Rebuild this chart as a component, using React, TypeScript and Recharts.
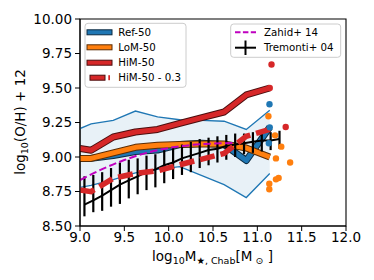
import React from "react";
import {
  ComposedChart,
  Line,
  Area,
  Scatter,
  XAxis,
  YAxis,
  ErrorBar,
  ReferenceArea,
} from "recharts";

// ---------- data ----------
const binMass = [9.0, 9.125, 9.375, 9.625, 9.875, 10.125, 10.375, 10.625, 10.875, 11.14];
const refMedian = [8.99, 8.99, 9.01, 9.04, 9.05, 9.09, 9.1, 9.09, 8.975, 9.215];
const refUpper = [9.206, 9.24, 9.266, 9.333, 9.29, 9.27, 9.265, 9.259, 9.2, 9.338];
const refLower = [8.78, 8.795, 8.836, 8.885, 8.91, 8.93, 8.865, 8.8, 8.706, 8.88];
const lomMedian = [8.99, 8.99, 9.03, 9.07, 9.085, 9.09, 9.095, 9.095, 9.065, 9.0];
const himMedian = [9.061, 9.049, 9.145, 9.181, 9.2, 9.244, 9.285, 9.326, 9.45, 9.5];
const himShifted = [8.761, 8.749, 8.845, 8.881, 8.9, 8.944, 8.985, 9.026, 9.15, 9.2];

const zahidMass = [9.0, 9.25, 9.5, 9.75, 10.0, 10.25, 10.5, 10.75];
const zahidZ = [8.833, 8.912, 8.978, 9.03, 9.065, 9.087, 9.097, 9.101];

const tremMass = [9.05, 9.15, 9.25, 9.35, 9.45, 9.55, 9.65, 9.75, 9.85, 9.95, 10.05, 10.15, 10.25, 10.35, 10.45, 10.55, 10.65, 10.75, 10.85, 10.95, 11.05, 11.15, 11.25];
const tremMed = [8.655, 8.685, 8.72, 8.76, 8.8, 8.83, 8.86, 8.89, 8.91, 8.94, 8.96, 8.99, 9.01, 9.03, 9.05, 9.06, 9.08, 9.09, 9.1, 9.11, 9.12, 9.12, 9.13];
const tremP16 = [8.57, 8.6, 8.61, 8.64, 8.66, 8.7, 8.73, 8.76, 8.78, 8.81, 8.84, 8.87, 8.89, 8.92, 8.94, 8.96, 8.98, 9.0, 9.02, 9.03, 9.04, 9.05, 9.06];
const tremP84 = [8.86, 8.87, 8.89, 8.92, 8.96, 8.98, 8.99, 9.01, 9.02, 9.05, 9.07, 9.09, 9.11, 9.13, 9.14, 9.15, 9.16, 9.17, 9.17, 9.18, 9.18, 9.18, 9.19];

const refPtsMass = [11.137, 11.13, 11.14];
const refPtsZ = [9.382, 9.1, 9.215];
const lomPtsMass = [11.125, 11.2, 11.27, 11.21, 11.37, 11.24, 11.21, 11.135, 11.135];
const lomPtsZ = [9.295, 9.157, 9.075, 8.99, 8.96, 8.848, 8.838, 8.807, 8.766];
const himPtsMass = [11.32, 11.16, 11.14];
const himPtsZ = [9.217, 9.67, 9.5];

const xTicks = [9.0, 9.5, 10.0, 10.5, 11.0, 11.5, 12.0];
const yTicks = [8.5, 8.75, 9.0, 9.25, 9.5, 9.75, 10.0];

// ---------- tables ----------
const bandData = binMass.map((m, i) => ({ m, range: [refLower[i], refUpper[i]], lo: refLower[i], hi: refUpper[i] }));
const refData = binMass.map((m, i) => ({ m, z: refMedian[i] }));
const lomData = binMass.map((m, i) => ({ m, z: lomMedian[i] }));
const himData = binMass.map((m, i) => ({ m, z: himMedian[i] }));
const himShData = binMass.map((m, i) => ({ m, z: himShifted[i] }));
const zahidData = zahidMass.map((m, i) => ({ m, z: zahidZ[i] }));
const tremData = tremMass.map((m, i) => ({ m, z: tremMed[i], err: [tremMed[i] - tremP16[i], tremP84[i] - tremMed[i]] }));
const refPts = refPtsMass.map((m, i) => ({ m, z: refPtsZ[i] }));
const lomPts = lomPtsMass.map((m, i) => ({ m, z: lomPtsZ[i] }));
const himPts = himPtsMass.map((m, i) => ({ m, z: himPtsZ[i] }));

const BLUE = "#1f77b4";
const ORANGE = "#ff7f0e";
const RED = "#d62728";
const MAGENTA = "#bf00bf";
const FONT = "DejaVu Sans";

const dot = (color: string, r: number) => (props: any) =>
  <circle cx={props.cx} cy={props.cy} r={r} fill={color} />;

export default function App() {
  const tickStyle = { fontSize: 13.5, fill: "#000", fontFamily: FONT };
  return (
    <div style={{ position: "absolute", left: 0, top: 0, width: 374, height: 280, background: "#fff" }}>
      <ComposedChart width={374} height={280} margin={{ top: 19, right: 28, bottom: 0, left: 0 }}>
        <XAxis
          dataKey="m"
          type="number"
          domain={[9, 12]}
          ticks={xTicks}
          allowDataOverflow
          tickFormatter={(v: number) => v.toFixed(1)}
          tick={tickStyle}
          tickSize={5}
          tickMargin={1.5}
          height={54}
          stroke="#000"
          tickLine={{ stroke: "#000" }}
        />
        <YAxis
          dataKey="z"
          type="number"
          domain={[8.5, 10]}
          ticks={yTicks}
          allowDataOverflow
          tickFormatter={(v: number) => v.toFixed(2)}
          tick={tickStyle}
          tickSize={5}
          tickMargin={3}
          width={80}
          stroke="#000"
          tickLine={{ stroke: "#000" }}
        />
        <Area data={bandData} dataKey="range" type="linear" fill={BLUE} fillOpacity={0.1} stroke="none" isAnimationActive={false} legendType="none" />
        <Line data={bandData} dataKey="hi" type="linear" stroke={BLUE} strokeWidth={1.3} dot={false} activeDot={false} isAnimationActive={false} legendType="none" />
        <Line data={bandData} dataKey="lo" type="linear" stroke={BLUE} strokeWidth={1.3} dot={false} activeDot={false} isAnimationActive={false} legendType="none" />

        <Line data={refData} dataKey="z" type="linear" stroke="#0b2a40" strokeWidth={7} strokeLinejoin="round" dot={false} activeDot={false} isAnimationActive={false} legendType="none" />
        <Line data={refData} dataKey="z" type="linear" stroke={BLUE} strokeWidth={5} strokeLinejoin="round" dot={false} activeDot={false} isAnimationActive={false} legendType="none" />
        <Line data={lomData} dataKey="z" type="linear" stroke="#5a2d05" strokeWidth={7} strokeLinejoin="round" dot={false} activeDot={false} isAnimationActive={false} legendType="none" />
        <Line data={lomData} dataKey="z" type="linear" stroke={ORANGE} strokeWidth={5} strokeLinejoin="round" dot={false} activeDot={false} isAnimationActive={false} legendType="none" />

        <Line data={tremData} dataKey="z" type="linear" stroke="#000" strokeWidth={2} dot={false} activeDot={false} isAnimationActive={false} legendType="none">
          <ErrorBar dataKey="err" width={0} stroke="#000" strokeWidth={2.2} direction="y" />
        </Line>

        <Line data={himData} dataKey="z" type="linear" stroke="#4a0e0e" strokeWidth={7} strokeLinejoin="round" dot={false} activeDot={false} isAnimationActive={false} legendType="none" />
        <Line data={himData} dataKey="z" type="linear" stroke={RED} strokeWidth={5} strokeLinejoin="round" dot={false} activeDot={false} isAnimationActive={false} legendType="none" />
        <Line data={himShData} dataKey="z" type="linear" stroke={RED} strokeWidth={5.5} strokeDasharray="15 6" dot={false} activeDot={false} isAnimationActive={false} legendType="none" />

        <Line data={zahidData} dataKey="z" type="monotone" stroke={MAGENTA} strokeWidth={2} strokeDasharray="7.5 3.3" dot={false} activeDot={false} isAnimationActive={false} legendType="none" />

        <Scatter data={refPts} dataKey="z" fill={BLUE} shape={dot(BLUE, 3.2)} isAnimationActive={false} legendType="none" />
        <Scatter data={lomPts} dataKey="z" fill={ORANGE} shape={dot(ORANGE, 3.2)} isAnimationActive={false} legendType="none" />
        <Scatter data={himPts} dataKey="z" fill={RED} shape={dot(RED, 3.2)} isAnimationActive={false} legendType="none" />

        <ReferenceArea x1={9} x2={12} y1={8.5} y2={10} fill="none" stroke="#000" strokeWidth={1.1} />
      </ComposedChart>

      <svg width={374} height={280} style={{ position: "absolute", left: 0, top: 0, pointerEvents: "none" }} fontFamily={FONT}>
        {/* y label */}
        <text transform="translate(25,122) rotate(-90)" textAnchor="middle" fontSize={13.5} fill="#000">
          log<tspan fontSize={9.5} dy={3}>10</tspan><tspan dy={-3}>(O/H) + 12</tspan>
        </text>
        {/* x label */}
        <text x={212.5} y={260.5} textAnchor="middle" fontSize={13.5} fill="#000">
          log<tspan fontSize={9.5} dy={3}>10</tspan><tspan dy={-3}>M</tspan><tspan fontSize={9.5} dy={3}>★, Chab</tspan><tspan dy={-3}>[M</tspan><tspan fontSize={9.5} dy={3}> ⊙</tspan><tspan dy={-3}> ]</tspan>
        </text>

        {/* legend 1 */}
        <rect x={85} y={23.3} width={101} height={64} rx={3} fill="#fff" fillOpacity={0.8} stroke="#ccc" strokeWidth={1} />
        <rect x={87} y={29.8} width={25} height={5} fill={BLUE} stroke="#0b2a40" strokeWidth={1} />
        <text x={118.3} y={36} fontSize={10.25} fill="#000">Ref-50</text>
        <rect x={87} y={44.8} width={25} height={5} fill={ORANGE} stroke="#5a2d05" strokeWidth={1} />
        <text x={118.3} y={51} fontSize={10.25} fill="#000">LoM-50</text>
        <rect x={87} y={60.2} width={25} height={5} fill={RED} stroke="#4a0e0e" strokeWidth={1} />
        <text x={118.3} y={66.4} fontSize={10.25} fill="#000">HiM-50</text>
        <rect x={90} y={75.2} width={15} height={5} fill={RED} stroke="#4a0e0e" strokeWidth={1} />
        <rect x={108.3} y={75.2} width={1.7} height={5} fill={RED} />
        <text x={118.3} y={81.4} fontSize={10.25} fill="#000">HiM-50 - 0.3</text>

        {/* legend 2 */}
        <rect x={230.7} y={24} width={110} height={33.3} rx={3} fill="#fff" fillOpacity={0.8} stroke="#ccc" strokeWidth={1} />
        <line x1={235} y1={32.3} x2={256} y2={32.3} stroke={MAGENTA} strokeWidth={2} strokeDasharray="5.5 2.4" />
        <text x={264} y={36} fontSize={10.25} fill="#000">Zahid+ 14</text>
        <line x1={235} y1={47.7} x2={256} y2={47.7} stroke="#000" strokeWidth={2} />
        <line x1={245.5} y1={40.5} x2={245.5} y2={55} stroke="#000" strokeWidth={2} />
        <text x={264} y={51.4} fontSize={10.25} fill="#000">Tremonti+ 04</text>
      </svg>
    </div>
  );
}
